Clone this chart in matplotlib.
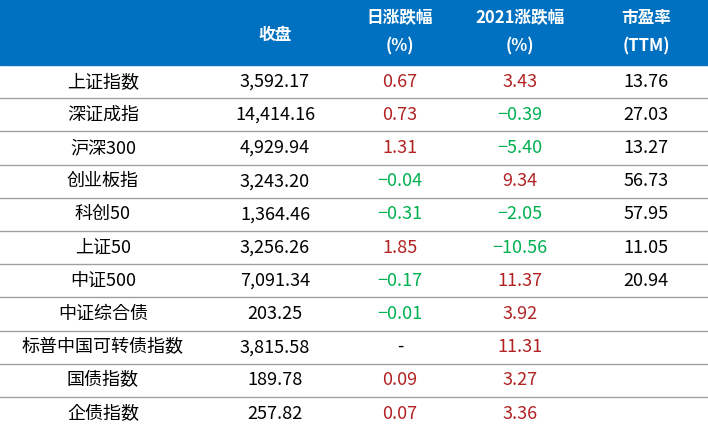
import matplotlib
matplotlib.use("Agg")
import matplotlib.pyplot as plt

names = ["上证指数","深证成指","沪深300","创业板指","科创50","上证50","中证500","中证综合债","标普中国可转债指数","国债指数","企债指数"]
close = ["3,592.17","14,414.16","4,929.94","3,243.20","1,364.46","3,256.26","7,091.34","203.25","3,815.58","189.78","257.82"]
daily = [0.67,0.73,1.31,-0.04,-0.31,1.85,-0.17,-0.01,None,0.09,0.07]
ytd = [3.43,-0.39,-5.40,9.34,-2.05,-10.56,11.37,3.92,11.31,3.27,3.36]
pe = ["13.76","27.03","13.27","56.73","57.95","11.05","20.94","","","",""]
headers = [("", ""), ("收盘", ""), ("日涨跌幅", "(%)"), ("2021涨跌幅", "(%)"), ("市盈率", "(TTM)")]

W, H = 708, 443
fig = plt.figure(figsize=(W/100, H/100), dpi=100)
ax = fig.add_axes([0, 0, 1, 1])
ax.set_xlim(0, W); ax.set_ylim(H, 0); ax.axis("off")
font = ["Noto Sans CJK SC", "Noto Sans CJK JP", "Noto Sans CJK TC", "DejaVu Sans"]
RED, GREEN = "#B22222", "#00B050"

ax.add_patch(plt.Rectangle((0, 0), W, 65, color="#0070C0"))
colx = [103, 275, 400, 520, 646]
for i, (h1, h2) in enumerate(headers):
    if h2:
        ax.text(colx[i], 18, h1, color="white", fontsize=12, fontweight="bold", ha="center", va="center", family=font)
        ax.text(colx[i], 46, h2, color="white", fontsize=12, fontweight="bold", ha="center", va="center", family=font)
    elif h1:
        ax.text(colx[i], 35, h1, color="white", fontsize=12, fontweight="bold", ha="center", va="center", family=font)

rh = 33.2
for r in range(len(names)):
    y = 65 + rh * r + rh / 2
    ax.text(colx[0], y, names[r], fontsize=13, ha="center", va="center", family=font)
    ax.text(colx[1], y, close[r], fontsize=13, ha="center", va="center", family=font)
    d = daily[r]
    if d is None:
        ax.text(colx[2], y, "-", fontsize=13, ha="center", va="center", family=font)
    else:
        ax.text(colx[2], y, f"{d:.2f}".replace("-", "−"), fontsize=13, ha="center", va="center", family=font, color=RED if d > 0 else GREEN)
    t = ytd[r]
    ax.text(colx[3], y, f"{t:.2f}".replace("-", "−"), fontsize=13, ha="center", va="center", family=font, color=RED if t > 0 else GREEN)
    ax.text(colx[4], y, pe[r], fontsize=13, ha="center", va="center", family=font)
    if r < len(names) - 1:
        ax.plot([0, W], [65 + rh * (r + 1)] * 2, color="#A0A0A0", lw=1)

fig.savefig("out.png", dpi=100)
